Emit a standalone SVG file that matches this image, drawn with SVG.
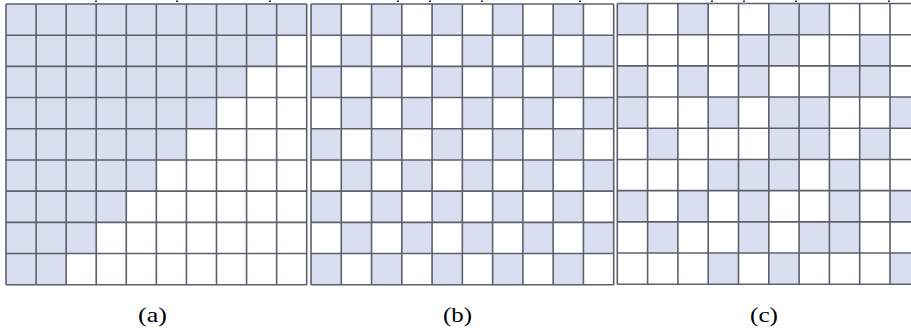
<svg xmlns="http://www.w3.org/2000/svg" width="911" height="334" viewBox="0 0 911 334">
<style>
.f{fill:#d9dff1;stroke:none}
.g{fill:none;stroke:#5c606a;stroke-width:1.6}
.lbl{font-family:"Liberation Serif","DejaVu Serif",serif;font-size:21px;fill:#000;text-anchor:middle}
.t{fill:#333}
</style>
<defs>
<path id="lines" fill="none" vector-effect="non-scaling-stroke" d="M0 0V9M1 0V9M2 0V9M3 0V9M4 0V9M5 0V9M6 0V9M7 0V9M8 0V9M9 0V9M10 0V9M0 0H10M0 1H10M0 2H10M0 3H10M0 4H10M0 5H10M0 6H10M0 7H10M0 8H10M0 9H10"/>
</defs>
<rect width="911" height="334" fill="#fff"/>
<g id="grid-a" transform="translate(6,4) scale(30.07,31.19)">
<rect class="f" x="0" y="0" width="10" height="1"/>
<rect class="f" x="0" y="1" width="9" height="1"/>
<rect class="f" x="0" y="2" width="8" height="1"/>
<rect class="f" x="0" y="3" width="7" height="1"/>
<rect class="f" x="0" y="4" width="6" height="1"/>
<rect class="f" x="0" y="5" width="5" height="1"/>
<rect class="f" x="0" y="6" width="4" height="1"/>
<rect class="f" x="0" y="7" width="3" height="1"/>
<rect class="f" x="0" y="8" width="2" height="1"/>
<use href="#lines" class="g"/>
</g>
<g id="grid-b" transform="translate(311,4) scale(30.27,31.19)">
<g class="f">
<rect x="0" y="0" width="1" height="1"/><rect x="2" y="0" width="1" height="1"/><rect x="4" y="0" width="1" height="1"/><rect x="6" y="0" width="1" height="1"/><rect x="8" y="0" width="1" height="1"/>
<rect x="1" y="1" width="1" height="1"/><rect x="3" y="1" width="1" height="1"/><rect x="5" y="1" width="1" height="1"/><rect x="7" y="1" width="1" height="1"/><rect x="9" y="1" width="1" height="1"/>
<rect x="0" y="2" width="1" height="1"/><rect x="2" y="2" width="1" height="1"/><rect x="4" y="2" width="1" height="1"/><rect x="6" y="2" width="1" height="1"/><rect x="8" y="2" width="1" height="1"/>
<rect x="1" y="3" width="1" height="1"/><rect x="3" y="3" width="1" height="1"/><rect x="5" y="3" width="1" height="1"/><rect x="7" y="3" width="1" height="1"/><rect x="9" y="3" width="1" height="1"/>
<rect x="0" y="4" width="1" height="1"/><rect x="2" y="4" width="1" height="1"/><rect x="4" y="4" width="1" height="1"/><rect x="6" y="4" width="1" height="1"/><rect x="8" y="4" width="1" height="1"/>
<rect x="1" y="5" width="1" height="1"/><rect x="3" y="5" width="1" height="1"/><rect x="5" y="5" width="1" height="1"/><rect x="7" y="5" width="1" height="1"/><rect x="9" y="5" width="1" height="1"/>
<rect x="0" y="6" width="1" height="1"/><rect x="2" y="6" width="1" height="1"/><rect x="4" y="6" width="1" height="1"/><rect x="6" y="6" width="1" height="1"/><rect x="8" y="6" width="1" height="1"/>
<rect x="1" y="7" width="1" height="1"/><rect x="3" y="7" width="1" height="1"/><rect x="5" y="7" width="1" height="1"/><rect x="7" y="7" width="1" height="1"/><rect x="9" y="7" width="1" height="1"/>
<rect x="0" y="8" width="1" height="1"/><rect x="2" y="8" width="1" height="1"/><rect x="4" y="8" width="1" height="1"/><rect x="6" y="8" width="1" height="1"/><rect x="8" y="8" width="1" height="1"/>
</g>
<use href="#lines" class="g"/>
</g>
<g id="grid-c" transform="translate(617.3,3.5) scale(30.3,31.19)">
<g class="f">
<rect x="0" y="0" width="1" height="1"/><rect x="2" y="0" width="1" height="1"/><rect x="5" y="0" width="2" height="1"/>
<rect x="4" y="1" width="2" height="1"/><rect x="8" y="1" width="1" height="1"/>
<rect x="0" y="2" width="1" height="1"/><rect x="2" y="2" width="1" height="1"/><rect x="4" y="2" width="1" height="1"/><rect x="7" y="2" width="2" height="1"/>
<rect x="0" y="3" width="1" height="1"/><rect x="3" y="3" width="1" height="1"/><rect x="5" y="3" width="2" height="1"/><rect x="9" y="3" width="1" height="1"/>
<rect x="1" y="4" width="1" height="1"/><rect x="5" y="4" width="2" height="1"/><rect x="8" y="4" width="1" height="1"/>
<rect x="3" y="5" width="3" height="1"/><rect x="7" y="5" width="1" height="1"/>
<rect x="0" y="6" width="1" height="1"/><rect x="2" y="6" width="1" height="1"/><rect x="4" y="6" width="1" height="1"/><rect x="7" y="6" width="1" height="1"/><rect x="9" y="6" width="1" height="1"/>
<rect x="1" y="7" width="1" height="1"/><rect x="4" y="7" width="1" height="1"/><rect x="6" y="7" width="2" height="1"/>
<rect x="3" y="8" width="1" height="1"/><rect x="5" y="8" width="1" height="1"/><rect x="9" y="8" width="1" height="1"/>
</g>
<use href="#lines" class="g"/>
</g>
<g id="ticks" class="t">
<rect x="95" y="0.5" width="2" height="1.5"/><rect x="176" y="0.5" width="2" height="1.5"/><rect x="269" y="0.5" width="2" height="1.5"/>
<rect x="397" y="0.5" width="2" height="1.5"/><rect x="429" y="0.5" width="2" height="1.5"/><rect x="481" y="0.5" width="2" height="1.5"/><rect x="579" y="0.5" width="2" height="1.5"/>
<rect x="711" y="0.5" width="2" height="1.5"/><rect x="743" y="0.5" width="2" height="1.5"/><rect x="795" y="0.5" width="2" height="1.5"/><rect x="888" y="0.5" width="2" height="1.5"/>
</g>
<g id="labels">
<text class="lbl" x="152.5" y="322" textLength="29" lengthAdjust="spacingAndGlyphs">(a)</text>
<text class="lbl" x="457.5" y="322" textLength="29" lengthAdjust="spacingAndGlyphs">(b)</text>
<text class="lbl" x="764" y="322" textLength="28" lengthAdjust="spacingAndGlyphs">(c)</text>
</g>
</svg>
